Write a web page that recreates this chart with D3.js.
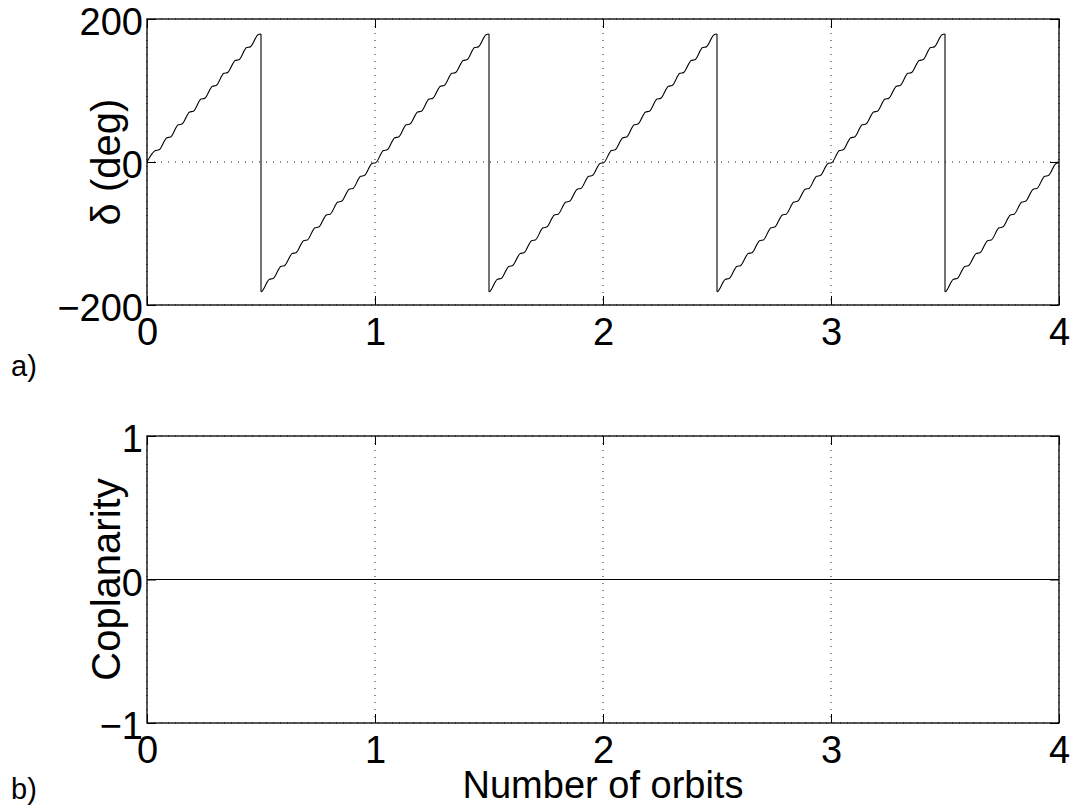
<!DOCTYPE html>
<html>
<head>
<meta charset="utf-8">
<script src="https://cdn.jsdelivr.net/npm/d3@7"></script>
<style>
  html, body { margin: 0; padding: 0; background: #fff; }
  svg { display: block; font-family: "Liberation Sans", Arial, Helvetica, sans-serif; }
</style>
</head>
<body>
<svg id="fig" width="1073" height="806"></svg>
<script>
// Relative in-plane angle delta over four orbits (orbit number, degrees).
// Each step holds a short plateau followed by a steeper rise; the angle wraps at +/-180.
const orbitT = [
  0, 0.037, 0.053, 0.087, 0.103, 0.137, 0.153, 0.187, 0.203, 0.237, 0.253, 0.287, 0.303, 0.337, 0.353, 0.387, 0.403, 0.437, 0.453, 0.487, 0.5,
  0.5, 0.503, 0.537, 0.553, 0.587, 0.603, 0.637, 0.653, 0.687, 0.703, 0.737, 0.753, 0.787, 0.803, 0.837, 0.853, 0.887, 0.903, 0.937, 0.953, 0.987, 1.003,
  1.037, 1.053, 1.087, 1.103, 1.137, 1.153, 1.187, 1.203, 1.237, 1.253, 1.287, 1.303, 1.337, 1.353, 1.387, 1.403, 1.437, 1.453, 1.487, 1.5,
  1.5, 1.503, 1.537, 1.553, 1.587, 1.603, 1.637, 1.653, 1.687, 1.703, 1.737, 1.753, 1.787, 1.803, 1.837, 1.853, 1.887, 1.903, 1.937, 1.953, 1.987, 2.003,
  2.037, 2.053, 2.087, 2.103, 2.137, 2.153, 2.187, 2.203, 2.237, 2.253, 2.287, 2.303, 2.337, 2.353, 2.387, 2.403, 2.437, 2.453, 2.487, 2.5,
  2.5, 2.503, 2.537, 2.553, 2.587, 2.603, 2.637, 2.653, 2.687, 2.703, 2.737, 2.753, 2.787, 2.803, 2.837, 2.853, 2.887, 2.903, 2.937, 2.953, 2.987, 3.003,
  3.037, 3.053, 3.087, 3.103, 3.137, 3.153, 3.187, 3.203, 3.237, 3.253, 3.287, 3.303, 3.337, 3.353, 3.387, 3.403, 3.437, 3.453, 3.487, 3.5,
  3.5, 3.503, 3.537, 3.553, 3.587, 3.603, 3.637, 3.653, 3.687, 3.703, 3.737, 3.753, 3.787, 3.803, 3.837, 3.853, 3.887, 3.903, 3.937, 3.953, 3.987, 4.0
];
const deltaDeg = [
  0, 16, 17, 34, 35, 52, 53, 70, 71, 88, 89, 106, 107, 124, 125, 142, 143, 160, 161, 178, 179,
  -181.5, -181, -164, -163, -146, -145, -128, -127, -110, -109, -92, -91, -74, -73, -56, -55, -38, -37, -20, -19, -2, -1,
  16, 17, 34, 35, 52, 53, 70, 71, 88, 89, 106, 107, 124, 125, 142, 143, 160, 161, 178, 179,
  -181.5, -181, -164, -163, -146, -145, -128, -127, -110, -109, -92, -91, -74, -73, -56, -55, -38, -37, -20, -19, -2, -1,
  16, 17, 34, 35, 52, 53, 70, 71, 88, 89, 106, 107, 124, 125, 142, 143, 160, 161, 178, 179,
  -181.5, -181, -164, -163, -146, -145, -128, -127, -110, -109, -92, -91, -74, -73, -56, -55, -38, -37, -20, -19, -2, -1,
  16, 17, 34, 35, 52, 53, 70, 71, 88, 89, 106, 107, 124, 125, 142, 143, 160, 161, 178, 179,
  -181.5, -181, -164, -163, -146, -145, -128, -127, -110, -109, -92, -91, -74, -73, -56, -55, -38, -37, -20, -19, -2, -1
];

// Coplanarity stays at zero for the whole run.
const coplanarT = [0, 4];
const coplanarity = [0, 0];

const orbitTicks = [0, 1, 2, 3, 4];
const deltaTicks = [-200, 0, 200];
const coplanarTicks = [-1, 0, 1];

const FONT = 38;
const YLABEL_FONT = 40;
const svg = d3.select("#fig");

function panel(opts) {
  const { left, top, width, height, yDomain, yTicks, xs, ys, yLabel, tag, tagY, xLabel } = opts;
  const x = d3.scaleLinear().domain([0, 4]).range([0, width]);
  const y = d3.scaleLinear().domain(yDomain).range([height, 0]);
  const g = svg.append("g").attr("transform", `translate(${left},${top})`);

  // dotted grid
  const grid = g.append("g").attr("stroke", "#000").attr("stroke-width", 0.9)
    .attr("stroke-dasharray", "1,6").attr("fill", "none");
  grid.selectAll("line.gx").data(orbitTicks).join("line")
    .attr("x1", d => x(d)).attr("x2", d => x(d)).attr("y1", 0).attr("y2", height);
  grid.selectAll("line.gy").data(yTicks).join("line")
    .attr("y1", d => y(d)).attr("y2", d => y(d)).attr("x1", 0).attr("x2", width);

  // data: split where the angle wraps, each piece smooth, joined by the vertical jump
  const pts = xs.map((t, i) => [t, ys[i]]);
  const segs = [[pts[0]]];
  for (let i = 1; i < pts.length; i++) {
    if (pts[i][1] < pts[i - 1][1] - 180) segs.push([]);
    segs[segs.length - 1].push(pts[i]);
  }
  const smooth = d3.line().x(d => x(d[0])).y(d => y(d[1])).curve(d3.curveMonotoneX);
  const straight = d3.line().x(d => x(d[0])).y(d => y(d[1]));
  const dg = g.append("g").attr("fill", "none").attr("stroke", "#000").attr("stroke-width", 1.1);
  segs.forEach((s, i) => {
    dg.append("path").attr("d", s.length > 2 ? smooth(s) : straight(s));
    if (i > 0) {
      const prev = segs[i - 1];
      dg.append("path").attr("d", straight([prev[prev.length - 1], s[0]]));
    }
  });

  // axes with inward ticks on all four sides
  const tk = -9;
  const styleAxis = sel => {
    sel.select(".domain").remove();
    sel.selectAll(".tick line").attr("stroke", "#000").attr("stroke-width", 1);
    sel.selectAll(".tick text").attr("fill", "#000").attr("font-size", FONT)
      .attr("font-family", '"Liberation Sans", Arial, Helvetica, sans-serif');
  };
  g.append("g").attr("transform", `translate(0,${height})`)
    .call(d3.axisBottom(x).tickValues(orbitTicks).tickFormat(d3.format("d"))
      .tickSizeInner(tk).tickSizeOuter(0).tickPadding(13))
    .call(styleAxis);
  g.append("g")
    .call(d3.axisTop(x).tickValues(orbitTicks).tickFormat("")
      .tickSizeInner(tk).tickSizeOuter(0))
    .call(styleAxis);
  g.append("g")
    .call(d3.axisLeft(y).tickValues(yTicks).tickFormat(d3.format("d"))
      .tickSizeInner(tk).tickSizeOuter(0).tickPadding(4))
    .call(styleAxis)
    .call(sel => sel.selectAll(".tick text").attr("dy", "0.41em"));
  g.append("g").attr("transform", `translate(${width},0)`)
    .call(d3.axisRight(y).tickValues(yTicks).tickFormat("")
      .tickSizeInner(tk).tickSizeOuter(0))
    .call(styleAxis);

  // box
  g.append("rect").attr("x", 0).attr("y", 0).attr("width", width).attr("height", height)
    .attr("fill", "none").attr("stroke", "#000").attr("stroke-width", 1.3);

  // y label
  svg.append("text")
    .attr("transform", `translate(120,${top + height / 2}) rotate(-90)`)
    .attr("text-anchor", "middle").attr("font-size", YLABEL_FONT).attr("fill", "#000")
    .text(yLabel);

  if (xLabel) {
    svg.append("text").attr("x", left + width / 2).attr("y", top + height + 75)
      .attr("text-anchor", "middle").attr("font-size", FONT).attr("fill", "#000")
      .text(xLabel);
  }

  svg.append("text").attr("x", 11).attr("y", tagY)
    .attr("font-size", 29).attr("fill", "#000").text(tag);
}

panel({
  left: 147, top: 19, width: 912, height: 286,
  yDomain: [-200, 200], yTicks: deltaTicks,
  xs: orbitT, ys: deltaDeg,
  yLabel: "δ (deg)", tag: "a)", tagY: 376
});

panel({
  left: 147, top: 436, width: 912, height: 287,
  yDomain: [-1, 1], yTicks: coplanarTicks,
  xs: coplanarT, ys: coplanarity,
  yLabel: "Coplanarity", tag: "b)", tagY: 799,
  xLabel: "Number of orbits"
});
</script>
</body>
</html>
